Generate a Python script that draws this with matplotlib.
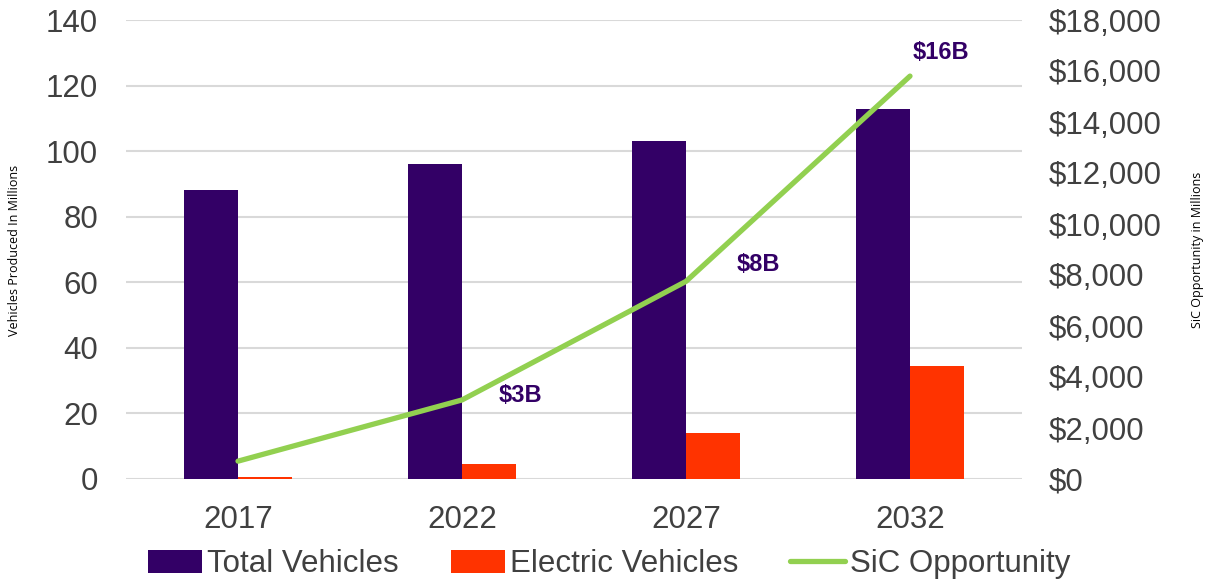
import numpy as np
import matplotlib.pyplot as plt
from matplotlib.ticker import FuncFormatter

# data
years = ["2017", "2022", "2027", "2032"]
total_vehicles = [88, 96, 103, 113]
electric_vehicles = [0.6, 4.6, 14, 34.5]
sic_opportunity = [700, 3100, 7750, 15800]
sic_labels = ["", "$3B", "$8B", "$16B"]

PURPLE = "#330066"
ORANGE = "#FF3300"
GREEN = "#92D050"
TXT = "#404040"
FS = 22.5

plt.rcParams['font.family'] = ['Liberation Sans', 'DejaVu Sans']

fig = plt.figure(figsize=(12.14, 5.81), dpi=100)
ax = fig.add_axes([126/1214, 1 - 479/581, (1022 - 126)/1214, (479 - 20)/581])
ax2 = ax.twinx()

x = np.arange(len(years))
w = 0.24
b1 = ax.bar(x - w/2, total_vehicles, w, color=PURPLE, label="Total Vehicles", zorder=2)
b2 = ax.bar(x + w/2, electric_vehicles, w, color=ORANGE, label="Electric Vehicles", zorder=2)

ax.set_xlim(-0.5, len(years) - 0.5)
ax.set_ylim(0, 140)
ax.set_yticks(np.arange(0, 141, 20))
ax.set_xticks(x)
ax.set_xticklabels(years)
ax.grid(axis='y', color='#d9d9d9', linewidth=1.5, zorder=0)
ax.set_axisbelow(True)
for s in ax.spines.values():
    s.set_visible(False)
for s in ax2.spines.values():
    s.set_visible(False)
ax.tick_params(axis='both', length=0, labelsize=FS, colors=TXT)
ax.tick_params(axis='y', pad=20)
ax.tick_params(axis='x', pad=19)

line, = ax2.plot(x, sic_opportunity, color=GREEN, linewidth=3.8, solid_capstyle='round',
                 label="SiC Opportunity", zorder=3)
ax2.set_ylim(0, 18000)
ax2.set_yticks(np.arange(0, 18001, 2000))
ax2.yaxis.set_major_formatter(FuncFormatter(lambda v, p: "${:,.0f}".format(v)))
ax2.tick_params(axis='y', length=0, labelsize=FS, colors=TXT, pad=19)

# value labels next to the line (offsets in pixels)
offsets = [(0, 0), (58, 4), (72, 17), (31, 24)]
for xi, yi, lab, off in zip(x, sic_opportunity, sic_labels, offsets):
    if lab:
        ax2.annotate(lab, (xi, yi), xytext=off, textcoords='offset pixels',
                     ha='center', va='center', fontsize=17, fontweight='bold', color=PURPLE)

fig.text(15/1214, 1 - 250/581, "Vehicles Produced In Millions", rotation=90,
         ha='center', va='center', fontsize=9, color='black', family=['Open Sans', 'DejaVu Sans'])
fig.text(1197/1214, 1 - 250/581, "SiC Opportunity in Millions", rotation=90,
         ha='center', va='center', fontsize=9, color='black', family=['Open Sans', 'DejaVu Sans'])

leg = fig.legend(handles=[b1, b2, line], loc='center', bbox_to_anchor=(609/1214, 1 - 564/581),
                 ncol=3, frameon=False, fontsize=FS, handlelength=1.75, handleheight=0.75,
                 handletextpad=0.16, columnspacing=1.65)
for t in leg.get_texts():
    t.set_color(TXT)

fig.savefig("out.png", dpi=100)
